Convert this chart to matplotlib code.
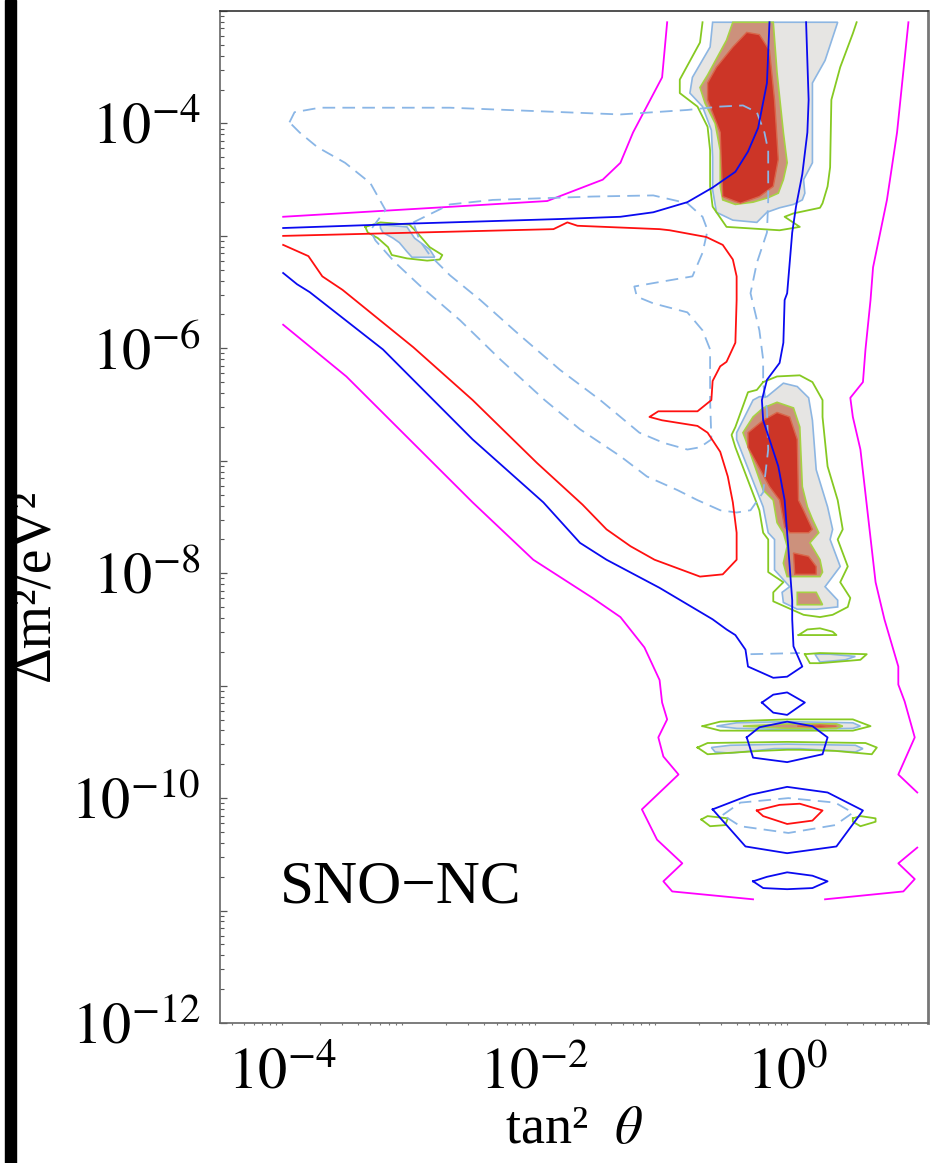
import numpy as np
import matplotlib
matplotlib.use('Agg')
import matplotlib.pyplot as plt
from matplotlib.patches import Rectangle
from matplotlib.ticker import LogLocator, NullFormatter

plt.rcParams['font.family'] = ['Liberation Serif', 'DejaVu Serif']
plt.rcParams['mathtext.fontset'] = 'stix'

# contours: (log10 tan^2 theta, log10 dm^2)
magenta_top = [(-3.99, -4.83), (-1.90, -4.69), (-1.46, -4.50), (-1.32, -4.35),
               (-1.22, -4.08), (-0.99, -3.59), (-0.95, -3.10)]
magenta_low_left = [(-3.99, -5.79), (-3.49, -6.25), (-2.49, -7.37), (-2.01, -7.88),
                    (-1.54, -8.22), (-1.32, -8.39), (-1.13, -8.66), (-1.01, -8.95),
                    (-0.99, -9.15), (-0.95, -9.30), (-1.02, -9.46), (-0.98, -9.63),
                    (-0.86, -9.79), (-1.15, -10.10), (-1.03, -10.37), (-0.83, -10.58),
                    (-0.98, -10.74), (-0.91, -10.83), (-0.27, -10.90)]
magenta_low_right = [(0.30, -10.90), (0.92, -10.83), (1.01, -10.72), (0.88, -10.58),
                     (1.03, -10.44)]
magenta_right = [(0.96, -3.10), (0.87, -4.08), (0.79, -4.68), (0.68, -5.28),
                 (0.66, -5.57), (0.62, -6.01), (0.60, -6.30), (0.50, -6.44),
                 (0.52, -6.61), (0.58, -6.90), (0.70, -8.08), (0.77, -8.41),
                 (0.88, -8.83), (0.88, -8.99), (0.93, -9.14), (1.01, -9.46),
                 (0.88, -9.79), (1.03, -9.95)]

blue_top = [(-3.99, -4.93), (-2.96, -4.89), (-1.80, -4.85), (-1.32, -4.83),
            (-1.06, -4.79), (-0.79, -4.70), (-0.59, -4.57), (-0.41, -4.43),
            (-0.31, -4.25), (-0.23, -4.04), (-0.16, -3.64), (-0.14, -3.10)]
blue_main = [(-3.99, -5.33), (-3.88, -5.43), (-3.78, -5.50), (-3.20, -6.01),
             (-2.49, -6.81), (-1.93, -7.37), (-1.64, -7.73), (-1.43, -7.88),
             (-1.01, -8.13), (-0.59, -8.41), (-0.48, -8.50), (-0.41, -8.55),
             (-0.33, -8.68), (-0.31, -8.83), (-0.11, -8.93), (0.00, -8.92),
             (0.12, -8.83), (0.05, -8.65), (0.04, -8.41), (0.04, -8.24),
             (0.01, -7.79), (-0.02, -7.35), (-0.07, -7.05), (-0.14, -6.81),
             (-0.19, -6.64), (-0.20, -6.46), (-0.16, -6.28), (-0.06, -6.13),
             (-0.03, -5.95), (-0.02, -5.57), (0.00, -5.51), (0.04, -4.97),
             (0.07, -4.74), (0.12, -4.45), (0.16, -4.08), (0.17, -3.79),
             (0.15, -3.10)]
blue_loops = [
    [(-0.20, -9.15), (-0.11, -9.08), (0.00, -9.06), (0.14, -9.15), (0.00, -9.26),
     (-0.11, -9.24)],
    [(-0.32, -9.46), (-0.22, -9.37), (0.00, -9.32), (0.20, -9.36), (0.32, -9.46),
     (0.28, -9.61), (0.00, -9.68), (-0.27, -9.64)],
    [(-0.59, -10.10), (-0.29, -9.97), (0.00, -9.90), (0.32, -9.95), (0.60, -10.11),
     (0.39, -10.43), (0.00, -10.49), (-0.33, -10.43)],
    [(-0.27, -10.74), (-0.16, -10.70), (0.00, -10.66), (0.20, -10.69), (0.32, -10.74),
     (0.20, -10.80), (0.00, -10.81), (-0.19, -10.80)],
]

red_main = [(-3.99, -5.00), (-1.85, -4.94), (-1.74, -4.88), (-1.66, -4.91),
            (-1.01, -4.94), (-0.93, -4.95), (-0.64, -5.01), (-0.51, -5.08),
            (-0.43, -5.21), (-0.40, -5.36), (-0.40, -5.57), (-0.41, -5.95),
            (-0.48, -6.12), (-0.53, -6.16), (-0.59, -6.29), (-0.60, -6.46),
            (-0.71, -6.56), (-1.02, -6.56), (-1.09, -6.61), (-0.99, -6.64),
            (-0.71, -6.69), (-0.63, -6.75), (-0.53, -6.92), (-0.47, -7.14),
            (-0.43, -7.37), (-0.40, -7.64), (-0.40, -7.88), (-0.51, -8.01),
            (-0.69, -8.03), (-1.05, -7.88), (-1.24, -7.76), (-1.43, -7.61),
            (-1.62, -7.39), (-1.98, -7.02), (-2.49, -6.46), (-2.96, -5.99),
            (-3.52, -5.48), (-3.68, -5.36), (-3.79, -5.18), (-3.99, -5.08)]
red_loop = [(-0.24, -10.11), (-0.06, -10.06), (0.10, -10.05), (0.28, -10.11),
            (0.20, -10.20), (0.00, -10.23), (-0.19, -10.16)]

dashed_outer = [(-3.94, -3.99), (-3.90, -3.90), (-3.70, -3.86), (-2.67, -3.86),
                (-1.32, -3.92), (-0.79, -3.88), (-0.53, -3.85), (-0.35, -3.84),
                (-0.24, -3.90), (-0.18, -4.08), (-0.15, -4.24), (-0.15, -4.68),
                (-0.16, -4.97), (-0.24, -5.24), (-0.29, -5.51), (-0.22, -5.84),
                (-0.19, -6.10), (-0.19, -6.31), (-0.16, -6.55), (-0.15, -6.90),
                (-0.19, -7.28), (-0.29, -7.44), (-0.40, -7.46), (-0.53, -7.44),
                (-0.71, -7.35), (-0.87, -7.26), (-1.11, -7.14), (-1.32, -6.96),
                (-1.64, -6.72), (-1.92, -6.46), (-2.27, -6.10), (-2.59, -5.75),
                (-2.91, -5.44), (-3.11, -5.23), (-3.26, -5.04), (-3.30, -4.95),
                (-3.18, -4.77), (-3.30, -4.53), (-3.50, -4.35), (-3.72, -4.21),
                (-3.86, -4.08), (-3.94, -3.99)]
dashed_inner = [(-2.96, -4.88), (-2.67, -4.72), (-2.33, -4.68), (-1.54, -4.65),
                (-1.06, -4.64), (-0.79, -4.71), (-0.67, -4.83), (-0.63, -4.95),
                (-0.67, -5.15), (-0.75, -5.36), (-1.06, -5.42), (-1.21, -5.45),
                (-1.19, -5.54), (-1.06, -5.60), (-0.79, -5.68), (-0.67, -5.84),
                (-0.61, -6.01), (-0.61, -6.46), (-0.60, -6.81), (-0.69, -6.88),
                (-0.79, -6.90), (-0.98, -6.84), (-1.17, -6.75), (-1.48, -6.46),
                (-1.80, -6.19), (-2.12, -5.88), (-2.43, -5.57), (-2.67, -5.35),
                (-2.83, -5.17), (-2.91, -5.04), (-2.96, -4.88)]
dashed_loop = [(-0.51, -10.15), (-0.37, -10.04), (0.01, -10.00), (0.38, -10.04),
               (0.52, -10.13), (0.38, -10.24), (0.01, -10.31), (-0.37, -10.25),
               (-0.51, -10.15)]
dashed_bar = [(-0.29, -8.72), (0.10, -8.71)]

# allowed regions: outer green line, grey fill (light blue edge), tan fill, red core
green_outer = [
    [(-0.67, -3.10), (-0.69, -3.28), (-0.85, -3.61), (-0.85, -3.73), (-0.71, -3.85),
     (-0.63, -4.03), (-0.61, -4.24), (-0.61, -4.56), (-0.59, -4.74), (-0.48, -4.92),
     (-0.06, -4.95), (0.10, -4.92), (-0.02, -4.83), (0.05, -4.80), (0.26, -4.75),
     (0.28, -4.71), (0.32, -4.56), (0.34, -4.39), (0.35, -3.79), (0.42, -3.50),
     (0.52, -3.20), (0.55, -3.10)],
    [(-0.19, -6.30), (-0.08, -6.25), (0.10, -6.24), (0.20, -6.30), (0.28, -6.46),
     (0.28, -6.61), (0.32, -7.05), (0.40, -7.35), (0.44, -7.61), (0.40, -7.70),
     (0.48, -7.94), (0.42, -8.08), (0.50, -8.22), (0.48, -8.30), (0.36, -8.37),
     (0.26, -8.39), (0.13, -8.37), (-0.11, -8.25), (-0.11, -8.17), (-0.03, -8.08),
     (-0.15, -7.99), (-0.15, -7.70), (-0.19, -7.64), (-0.22, -7.44), (-0.41, -6.88),
     (-0.44, -6.77), (-0.41, -6.70), (-0.31, -6.39), (-0.24, -6.37), (-0.19, -6.30)],
    [(-3.34, -4.92), (-3.22, -4.88), (-2.99, -4.90), (-2.93, -4.97), (-2.83, -5.10),
     (-2.73, -5.17), (-2.75, -5.21), (-2.85, -5.22), (-3.01, -5.20), (-3.13, -5.17),
     (-3.16, -5.10), (-3.24, -5.02), (-3.32, -4.97), (-3.34, -4.92)],
    [(0.09, -8.55), (0.16, -8.50), (0.26, -8.49), (0.36, -8.52), (0.39, -8.55),
     (0.09, -8.55)],
    [(0.14, -8.72), (0.26, -8.71), (0.63, -8.72), (0.58, -8.77), (0.26, -8.80),
     (0.18, -8.80), (0.14, -8.72)],
    [(-0.67, -9.36), (-0.53, -9.32), (0.00, -9.30), (0.52, -9.30), (0.66, -9.36),
     (0.52, -9.40), (0.00, -9.40), (-0.53, -9.40), (-0.67, -9.36)],
    [(-0.71, -9.55), (-0.63, -9.51), (0.00, -9.50), (0.62, -9.51), (0.71, -9.55),
     (0.67, -9.61), (0.38, -9.58), (0.10, -9.57), (0.00, -9.57), (-0.21, -9.58),
     (-0.63, -9.61), (-0.71, -9.55)],
    [(-0.68, -10.19), (-0.63, -10.16), (-0.47, -10.18), (-0.49, -10.24),
     (-0.61, -10.25), (-0.68, -10.19)],
    [(0.52, -10.18), (0.58, -10.16), (0.70, -10.18), (0.70, -10.21), (0.58, -10.25),
     (0.52, -10.21), (0.52, -10.18)],
]
grey_regions = [
    [(-0.59, -3.10), (-0.61, -3.32), (-0.75, -3.59), (-0.77, -3.73), (-0.67, -3.85),
     (-0.60, -4.06), (-0.59, -4.30), (-0.59, -4.59), (-0.56, -4.79), (-0.43, -4.86),
     (-0.24, -4.88), (-0.16, -4.79), (-0.06, -4.75), (0.05, -4.72), (0.12, -4.68),
     (0.14, -4.62), (0.13, -4.50), (0.20, -4.35), (0.20, -3.64), (0.30, -3.44),
     (0.40, -3.10)],
    [(-0.16, -6.43), (-0.03, -6.31), (0.08, -6.34), (0.17, -6.44), (0.20, -6.64),
     (0.23, -7.08), (0.32, -7.41), (0.36, -7.61), (0.34, -7.70), (0.42, -7.94),
     (0.30, -8.12), (0.40, -8.24), (0.40, -8.30), (0.23, -8.32), (0.08, -8.32),
     (-0.03, -8.26), (-0.04, -8.17), (0.02, -8.12), (-0.10, -7.97), (-0.10, -7.70),
     (-0.15, -7.64), (-0.19, -7.41), (-0.40, -6.81), (-0.40, -6.75), (-0.27, -6.46),
     (-0.22, -6.43)],
    [(-3.22, -4.90), (-3.01, -4.92), (-2.95, -5.02), (-2.83, -5.12), (-2.79, -5.19),
     (-2.97, -5.19), (-3.01, -5.14), (-3.07, -5.06), (-3.12, -5.02), (-3.20, -4.97),
     (-3.22, -4.93)],
    [(0.22, -8.72), (0.34, -8.72), (0.54, -8.74), (0.46, -8.77), (0.26, -8.79)],
    [(-0.56, -9.36), (-0.40, -9.33), (0.00, -9.32), (0.52, -9.33), (0.58, -9.36),
     (0.52, -9.38), (0.00, -9.39), (-0.40, -9.38)],
    [(-0.60, -9.55), (-0.45, -9.53), (0.00, -9.52), (0.54, -9.53), (0.60, -9.56),
     (0.54, -9.59), (0.10, -9.56), (-0.10, -9.56), (-0.45, -9.60), (-0.57, -9.59)],
]
tan_regions = [
    [(-0.43, -3.10), (-0.48, -3.26), (-0.63, -3.57), (-0.69, -3.68), (-0.65, -3.82),
     (-0.57, -4.00), (-0.53, -4.24), (-0.53, -4.56), (-0.51, -4.68), (-0.41, -4.72),
     (-0.27, -4.70), (-0.15, -4.66), (-0.07, -4.62), (-0.03, -4.50), (0.00, -4.35),
     (-0.03, -4.08), (-0.08, -3.55), (-0.11, -3.10)],
    [(-0.19, -6.53), (-0.08, -6.48), (0.05, -6.53), (0.10, -6.70), (0.12, -7.23),
     (0.16, -7.41), (0.20, -7.52), (0.25, -7.64), (0.18, -7.73), (0.26, -7.88),
     (0.28, -7.99), (0.26, -8.03), (0.00, -8.03), (-0.03, -7.91), (0.00, -7.76),
     (-0.03, -7.64), (-0.08, -7.55), (-0.11, -7.35), (-0.19, -7.26), (-0.33, -6.81),
     (-0.35, -6.75), (-0.27, -6.61)],
    [(0.08, -8.17), (0.23, -8.17), (0.28, -8.28), (0.08, -8.28)],
    [(-0.35, -9.36), (0.00, -9.34), (0.39, -9.34), (0.44, -9.36), (0.39, -9.38),
     (0.00, -9.38)],
]
red_regions = [
    [(-0.32, -3.19), (-0.22, -3.21), (-0.14, -3.35), (-0.10, -3.79), (-0.07, -4.32),
     (-0.11, -4.56), (-0.22, -4.65), (-0.37, -4.71), (-0.51, -4.65), (-0.52, -4.39),
     (-0.53, -4.08), (-0.63, -3.79), (-0.63, -3.64), (-0.56, -3.50), (-0.43, -3.32)],
    [(-0.19, -6.64), (-0.08, -6.57), (0.02, -6.61), (0.08, -6.81), (0.09, -7.35),
     (0.13, -7.44), (0.20, -7.61), (0.17, -7.64), (0.02, -7.64), (-0.02, -7.59),
     (-0.06, -7.35), (-0.14, -7.23), (-0.31, -6.88), (-0.31, -6.75)],
    [(0.05, -7.82), (0.17, -7.85), (0.23, -7.94), (0.23, -8.01), (0.06, -8.01)],
    [(0.08, -9.36), (0.26, -9.35), (0.39, -9.36), (0.26, -9.37)],
]

yticks_exp = list(range(-12, -2))
xticks_exp = [-4, -2, 0]


def xy(pts):
    a = np.array(pts)
    return 10.0 ** a[:, 0], 10.0 ** a[:, 1]


fig = plt.figure(figsize=(9.31, 11.63), dpi=100)
ax = fig.add_axes([220 / 931, 1 - 1023 / 1163, 708 / 931, 1012 / 1163])
ax.set_xscale('log')
ax.set_yscale('log')

for poly in grey_regions:
    x, y = xy(poly)
    ax.fill(x, y, color='#e6e5e3', lw=1.2, ec='#8db6e2', zorder=1)
for poly in tan_regions:
    x, y = xy(poly)
    ax.fill(x, y, color='#cc917c', lw=1.2, ec='#a6d243', zorder=2)
for poly in red_regions:
    x, y = xy(poly)
    ax.fill(x, y, color='#cc3527', lw=1.0, ec='#d9664a', zorder=3)
for poly in green_outer:
    ax.plot(*xy(poly), color='#86c922', lw=1.3, zorder=4)

for pts in [magenta_top, magenta_low_left, magenta_low_right, magenta_right]:
    ax.plot(*xy(pts), color='#ff00ff', lw=1.3, zorder=5)
for pts in [blue_top, blue_main]:
    ax.plot(*xy(pts), color='#0a0af0', lw=1.3, zorder=6)
for pts in blue_loops:
    ax.plot(*xy(pts + pts[:1]), color='#0a0af0', lw=1.3, zorder=6)
ax.plot(*xy(red_main), color='#ff1010', lw=1.3, zorder=6)
ax.plot(*xy(red_loop + red_loop[:1]), color='#ff1010', lw=1.3, zorder=6)
for pts in [dashed_outer, dashed_inner, dashed_loop, dashed_bar]:
    ax.plot(*xy(pts), color='#8ab6e6', lw=1.3, ls=(0, (7, 4)), zorder=5)

ax.set_xlim(10 ** -4.49, 10 ** 1.115)
ax.set_ylim(1e-12, 1e-3)

ax.set_yticks([10.0 ** k for k in yticks_exp],
              labels=[f'$10^{{{k}}}$' if k % 2 == 0 else '' for k in yticks_exp])
ax.yaxis.set_minor_locator(LogLocator(base=10, subs=np.arange(2, 10), numticks=50))
ax.yaxis.set_minor_formatter(NullFormatter())
ax.tick_params(axis='y', which='major', direction='in', length=5, width=0.9,
               color='#555555', labelsize=42, pad=14)
ax.tick_params(axis='y', which='minor', direction='in', length=3, width=0.8,
               color='#555555')

ax.set_xticks([10.0 ** e for e in xticks_exp],
              labels=[f'$10^{{{e}}}$' for e in xticks_exp])
ax.xaxis.set_minor_locator(LogLocator(base=10, subs=np.arange(2, 10), numticks=50))
ax.xaxis.set_minor_formatter(NullFormatter())
ax.tick_params(axis='x', which='major', direction='out', length=1.5, width=0.8,
               color='#777777', labelsize=42, pad=16)
ax.tick_params(axis='x', which='minor', direction='out', length=1.5, width=0.8,
               color='#777777')

for side in ['left', 'bottom']:
    ax.spines[side].set_color('#666666')
    ax.spines[side].set_linewidth(1.2)
ax.spines['top'].set_color('#333333')
ax.spines['top'].set_linewidth(1.2)
ax.spines['right'].set_color('#777777')
ax.spines['right'].set_linewidth(2.0)

ax.set_xlabel('tan\u00b2  $\\theta$', fontsize=39, labelpad=3)
fig.text(0.037, 0.497, '\u0394m\u00b2/eV\u00b2', rotation=90, fontsize=40,
         ha='center', va='center')
ax.text(0.085, 0.1186, 'SNO\u2212NC', transform=ax.transAxes, fontsize=44,
        ha='left', va='baseline')

fig.patches.append(Rectangle((5 / 931, 0), 11 / 931, 1, transform=fig.transFigure,
                             color='black', zorder=10))

fig.savefig('out.png', dpi=100)
